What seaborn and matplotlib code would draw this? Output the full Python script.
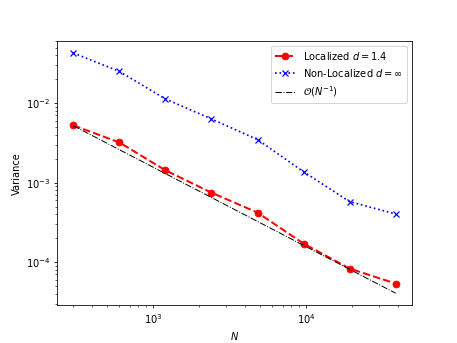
import numpy as np
import pandas as pd
import matplotlib
matplotlib.use('Agg')
import matplotlib.pyplot as plt
import seaborn as sns

# sample sizes
N = [300, 600, 1200, 2400, 4800, 9600, 19200, 38400]
# variance
var_loc = [5.26e-3, 3.21e-3, 1.43e-3, 7.48e-4, 4.2e-4, 1.71e-4, 8.3e-5, 5.37e-5]
var_nonloc = [4.28e-2, 2.51e-2, 1.13e-2, 6.33e-3, 3.48e-3, 1.37e-3, 5.77e-4, 4.03e-4]
# reference rate c/N
ref_const = 1.56
ref = [ref_const / n for n in N]

df = pd.DataFrame({'N': N, 'loc': var_loc, 'nonloc': var_nonloc, 'ref': ref})

fig, ax = plt.subplots(figsize=(6.4, 4.8), dpi=71.5)
sns.lineplot(data=df, x='N', y='loc', ax=ax, color='r', linestyle='--', lw=2,
             marker='o', ms=7, mec='r', label=r'Localized $d = 1.4$')
sns.lineplot(data=df, x='N', y='nonloc', ax=ax, color='b', linestyle=':', lw=1.7,
             marker='x', ms=7, mec='b', mew=1.2, label=r'Non-Localized $d = \infty$')
sns.lineplot(data=df, x='N', y='ref', ax=ax, color='k', linestyle='-.', lw=1,
             label=r'$\mathcal{O}(N^{-1})$')
ax.set_xscale('log')
ax.set_yscale('log')
ax.set_xlabel('$N$')
ax.set_ylabel('Variance')
ax.legend(loc='upper right')
fig.savefig('out.png')
